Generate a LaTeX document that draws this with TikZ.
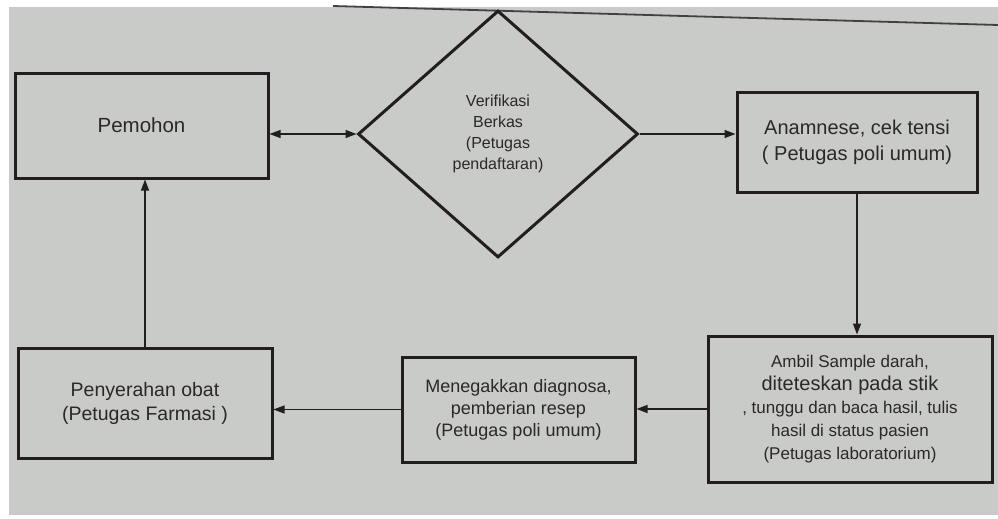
\documentclass[tikz,border=0pt]{standalone}
\usepackage{fontspec}
\setmainfont{Liberation Sans}
\usetikzlibrary{shapes.geometric,arrows.meta}
\definecolor{paper}{RGB}{201,203,200}
\definecolor{ink}{RGB}{34,30,31}
\definecolor{print}{RGB}{42,40,40}
\newcommand{\fsz}[2]{\fontsize{#1}{#2}\selectfont}

\begin{document}
\begin{tikzpicture}[x=1pt, y=-1pt,
  box/.style={draw=ink, line width=3pt, inner sep=0pt, align=center, text=print},
  flow/.style={draw=ink, line width=1.2pt, -{Triangle[length=11pt,width=8pt]}}]
\useasboundingbox (0,0) rectangle (998,519);
% ---- the photographed sheet ----
\fill[white] (0,0) rectangle (998,519);
\fill[paper] (9,7) rectangle (998,515);
\draw[ink!85, line width=1.8pt] (333,6) -- (998,25);
% ---- steps ----
\node[box, minimum width=253pt, minimum height=105pt, font=\fsz{20.5}{26}]
  (pemohon) at (141.5,125.5) {Pemohon};
\node[box, diamond, aspect=1.13, minimum width=280pt, minimum height=247pt,
  font=\fsz{16}{21}]
  (verif) at (498,134) {Verifikasi\\Berkas\\(Petugas\\pendaftaran)};
\node[box, minimum width=240pt, minimum height=100pt, font=\fsz{20}{26}]
  (anamnese) at (857,142) {Anamnese, cek tensi\\( Petugas poli umum)};
\node[box, minimum width=284pt, minimum height=146pt, font=\fsz{17}{23}]
  (ambil) at (850,409) {Ambil Sample darah,\\{\fsz{20}{23}diteteskan pada stik}\\, tunggu dan baca hasil, tulis\\hasil di status pasien\\(Petugas laboratorium)};
\node[box, minimum width=233pt, minimum height=105pt, font=\fsz{18}{22}]
  (menegak) at (518.5,409.5) {Menegakkan diagnosa,\\pemberian resep\\(Petugas poli umum)};
\node[box, minimum width=254pt, minimum height=110pt, font=\fsz{19.5}{24}]
  (serah) at (145,403) {Penyerahan obat\\(Petugas Farmasi )};
% ---- connectors ----
\draw[flow, {Triangle[length=11pt,width=8pt]}-{Triangle[length=11pt,width=8pt]}]
  (verif.west -| pemohon.east) -- (verif.west);
\draw[flow] (verif.east) -- (verif.east -| anamnese.west);
\draw[flow] (anamnese.south) -- (anamnese.south |- ambil.north);
\draw[flow] (ambil.west) -- (ambil.west -| menegak.east);
\draw[flow] (menegak.west) -- (menegak.west -| serah.east);
\draw[flow] (serah.north) -- (serah.north |- pemohon.south);
\end{tikzpicture}
\end{document}
